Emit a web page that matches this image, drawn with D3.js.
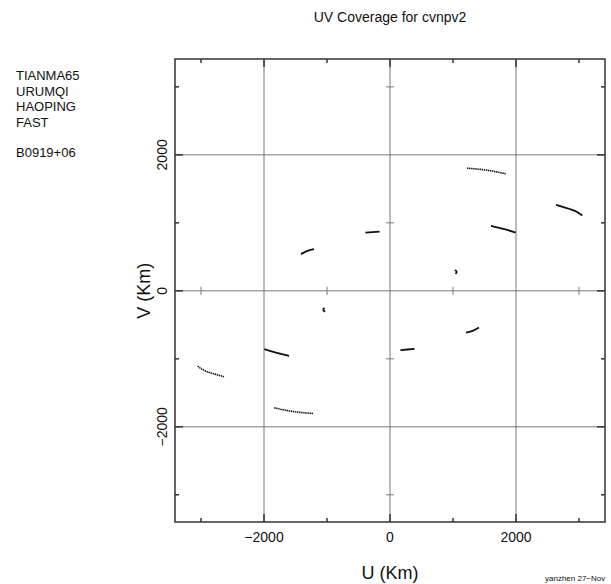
<!DOCTYPE html>
<html>
<head>
<meta charset="utf-8">
<script src="https://cdn.jsdelivr.net/npm/d3@7"></script>
<style>
  body { margin: 0; background: #fff; }
  text { font-family: "Liberation Sans", Arial, sans-serif; fill: #111; }
</style>
</head>
<body>
<svg width="611" height="584"></svg>
<script>
// stations + source, listed top left
const stations = ["TIANMA65", "URUMQI", "HAOPING", "FAST"];
const source = "B0919+06";

const labelTicks = [-2000, 0, 2000];
const minorTicks = [-3000, -1000, 1000, 3000];

// uv tracks in km, [u, v]
const trackTU = [[1222, 1804], [1380, 1792], [1535, 1775], [1690, 1750], [1837, 1721]];
const trackTUc = [[-1222, -1804], [-1380, -1792], [-1535, -1775], [-1690, -1750], [-1837, -1721]];
const trackTH = [[2635, 1265], [2778, 1225], [2937, 1176], [3052, 1107]];
const trackTHc = [[-2635, -1265], [-2778, -1225], [-2937, -1176], [-3052, -1107]];
const trackTF = [[1603, 956], [1799, 912], [1995, 857]];
const trackTFc = [[-1603, -956], [-1799, -912], [-1995, -857]];
const trackUH = [[-390, 855], [-275, 863], [-165, 872]];
const trackUHc = [[390, -855], [275, -863], [165, -872]];
const trackUF = [[-1413, 540], [-1322, 584], [-1206, 613]];
const trackUFc = [[1413, -540], [1322, -584], [1206, -613]];
const trackHF = [[1032, 309], [1059, 279], [1040, 250]];
const trackHFc = [[-1032, -309], [-1059, -279], [-1040, -250]];

const tracks = [trackTU, trackTUc, trackTH, trackTHc, trackTF, trackTFc,
  trackUH, trackUHc, trackUF, trackUFc, trackHF, trackHFc];
const dotted = [true, true, false, true, false, false, false, false, false, false, false, false];

let svg = d3.select("svg");

let x = d3.scaleLinear().domain([-3413, 3413]).range([175, 605]);
let y = d3.scaleLinear().domain([-3400, 3410]).range([522, 59]);

// grid
let grid = svg.append("g").attr("stroke", "#777").attr("stroke-width", 1);
grid.selectAll("line.gx")
  .data(labelTicks)
  .enter()
  .append("line")
  .attr("x1", (d) => x(d)).attr("x2", (d) => x(d))
  .attr("y1", y.range()[0]).attr("y2", y.range()[1]);
grid.selectAll("line.gy")
  .data(labelTicks)
  .enter()
  .append("line")
  .attr("y1", (d) => y(d)).attr("y2", (d) => y(d))
  .attr("x1", x.range()[0]).attr("x2", x.range()[1]);

// small ticks across the zero lines
let zt = svg.append("g").attr("stroke", "#777").attr("stroke-width", 1);
zt.selectAll("line.zx")
  .data(minorTicks)
  .enter()
  .append("line")
  .attr("x1", (d) => x(d)).attr("x2", (d) => x(d))
  .attr("y1", y(0) - 4).attr("y2", y(0) + 4);
zt.selectAll("line.zy")
  .data(minorTicks)
  .enter()
  .append("line")
  .attr("y1", (d) => y(d)).attr("y2", (d) => y(d))
  .attr("x1", x(0) - 4).attr("x2", x(0) + 4);

// frame
let frame = svg.append("g").attr("stroke", "#333").attr("stroke-width", 1.5);
frame.append("rect")
  .attr("x", x.range()[0]).attr("y", y.range()[1])
  .attr("width", x.range()[1] - x.range()[0])
  .attr("height", y.range()[0] - y.range()[1])
  .attr("fill", "none");

// inward ticks on all four sides
let allTicks = labelTicks.map((d) => [d, 8]).concat(minorTicks.map((d) => [d, 4]));
allTicks.forEach(([d, len]) => {
  frame.append("line").attr("x1", x(d)).attr("x2", x(d)).attr("y1", y.range()[0]).attr("y2", y.range()[0] - len);
  frame.append("line").attr("x1", x(d)).attr("x2", x(d)).attr("y1", y.range()[1]).attr("y2", y.range()[1] + len);
  frame.append("line").attr("y1", y(d)).attr("y2", y(d)).attr("x1", x.range()[0]).attr("x2", x.range()[0] + len);
  frame.append("line").attr("y1", y(d)).attr("y2", y(d)).attr("x1", x.range()[1]).attr("x2", x.range()[1] - len);
});

// tracks
let line = d3.line()
  .x((d) => x(d[0]))
  .y((d) => y(d[1]))
  .curve(d3.curveNatural);

svg.append("g")
  .selectAll("path")
  .data(tracks)
  .enter()
  .append("path")
  .attr("d", line)
  .attr("fill", "none")
  .attr("stroke", "#111")
  .attr("stroke-width", (d, i) => (dotted[i] ? 1.6 : 1.8))
  .attr("stroke-dasharray", (d, i) => (dotted[i] ? "1.4,0.7" : null));

// tick labels
let fmt = d3.format("d");
svg.append("g")
  .selectAll("text")
  .data(labelTicks)
  .enter()
  .append("text")
  .attr("x", (d) => x(d))
  .attr("y", 542)
  .attr("text-anchor", "middle")
  .style("font-size", "14px")
  .text((d) => fmt(d));

svg.append("g")
  .selectAll("text")
  .data(labelTicks)
  .enter()
  .append("text")
  .attr("transform", (d) => "translate(167," + y(d) + ") rotate(-90)")
  .attr("text-anchor", "middle")
  .style("font-size", "14px")
  .text((d) => fmt(d));

// titles
svg.append("text")
  .attr("x", 390).attr("y", 22)
  .attr("text-anchor", "middle")
  .style("font-size", "14px")
  .text("UV Coverage for cvnpv2");

svg.append("text")
  .attr("x", 390).attr("y", 579)
  .attr("text-anchor", "middle")
  .style("font-size", "18px")
  .text("U (Km)");

svg.append("text")
  .attr("transform", "translate(150," + y(0) + ") rotate(-90)")
  .attr("text-anchor", "middle")
  .style("font-size", "18px")
  .text("V (Km)");

svg.append("text")
  .attr("x", 545).attr("y", 581)
  .style("font-size", "8px")
  .text("yanzhen 27\u2212Nov");

// station list
svg.append("g")
  .selectAll("text")
  .data(stations)
  .enter()
  .append("text")
  .attr("x", 16)
  .attr("y", (d, i) => 80 + i * 15.7)
  .style("font-size", "13px")
  .text((d) => d);

svg.append("text")
  .attr("x", 16).attr("y", 157)
  .style("font-size", "13px")
  .text(source);
</script>
</body>
</html>
